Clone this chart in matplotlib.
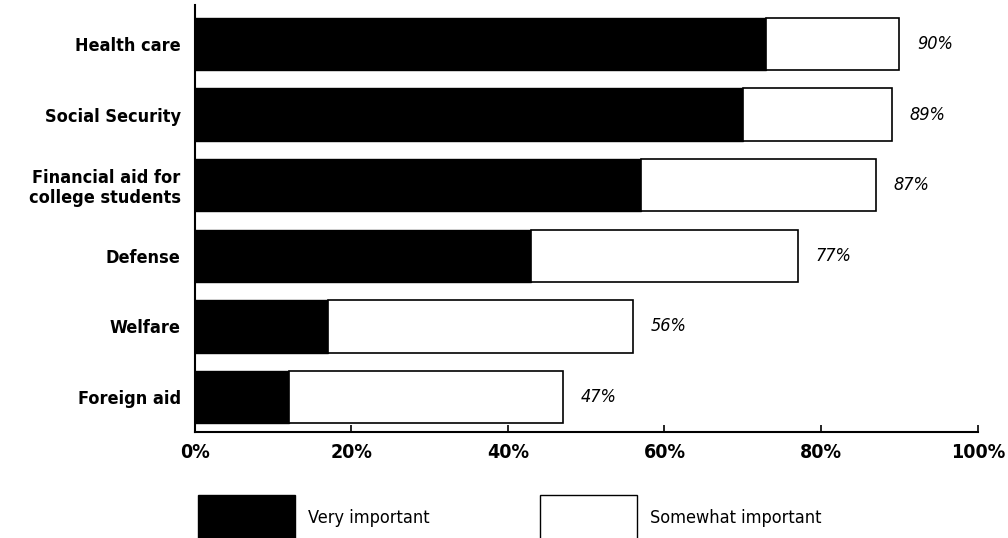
import matplotlib
matplotlib.use("Agg")
import matplotlib.pyplot as plt
from matplotlib.patches import Patch

# share who call each program "very" / "somewhat" important
categories = ["Health care", "Social Security", "Financial aid for\ncollege students",
              "Defense", "Welfare", "Foreign aid"]
very_important = [73, 70, 57, 43, 17, 12]
totals = [90, 89, 87, 77, 56, 47]
somewhat_important = [t - v for t, v in zip(totals, very_important)]
xticks = [0, 20, 40, 60, 80, 100]

fonts = ["DejaVu Sans"]
plt.rcParams["font.family"] = fonts
plt.rcParams["font.stretch"] = "condensed"

fig = plt.figure(figsize=(10.08, 5.38), dpi=100)
ax = fig.add_axes([0.193, 0.197, 0.777, 0.793])

ypos = list(range(len(categories)))
ax.barh(ypos, very_important, height=0.74, color="black", edgecolor="black", linewidth=1.0)
ax.barh(ypos, somewhat_important, left=very_important, height=0.74,
        color="white", edgecolor="black", linewidth=1.2)

# total labels to the right of each bar
for y, t in zip(ypos, totals):
    ax.text(t + 2.3, y, f"{t}%", va="center", ha="left", style="italic",
            fontsize=13, fontstretch="condensed")

ax.set_xlim(0, 100)
ax.set_ylim(5.495, -0.545)
ax.set_yticks(ypos)
ax.set_yticklabels(categories, fontsize=13, fontweight="bold", fontstretch="condensed",
                   linespacing=1.1)
ax.tick_params(axis="y", length=0, pad=10)
ax.set_xticks(xticks)
ax.set_xticklabels([f"{x}%" for x in xticks], fontsize=14, fontweight="bold",
                   fontstretch="condensed")
ax.tick_params(axis="x", direction="in", length=5, width=1.2, pad=8)

for s in ["top", "right"]:
    ax.spines[s].set_visible(False)
for s in ["left", "bottom"]:
    ax.spines[s].set_linewidth(1.5)

handles = [Patch(facecolor="black", edgecolor="black", label="Very important"),
           Patch(facecolor="white", edgecolor="black", label="Somewhat important")]
fig.legend(handles=handles, loc="lower left", bbox_to_anchor=(0.189, -0.02),
           ncol=2, frameon=False, handlelength=5.4, handleheight=3.6,
           handletextpad=0.7, columnspacing=6.1, borderaxespad=0,
           prop={"size": 13, "stretch": "condensed"})

fig.savefig("out.png", dpi=100, facecolor="white")
